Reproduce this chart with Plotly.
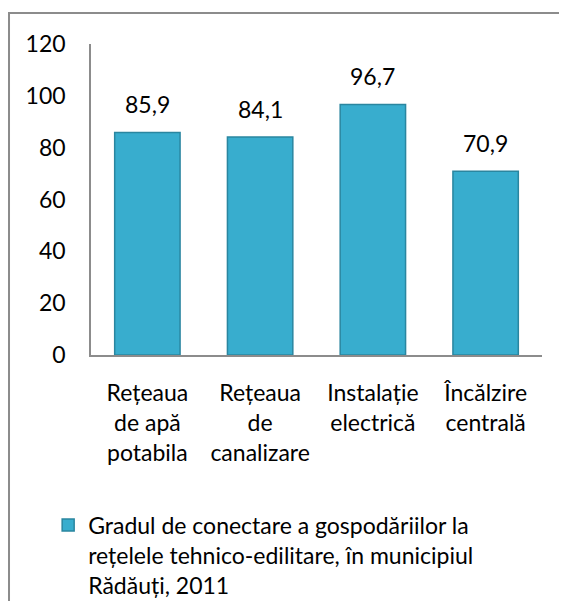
import plotly.graph_objs as go

categories = ["Rețeaua<br>de apă<br>potabila", "Rețeaua<br>de<br>canalizare",
              "Instalație<br>electrică", "Încălzire<br>centrală"]
values = [85.9, 84.1, 96.7, 70.9]
series_name = "Gradul de conectare a gospodăriilor la<br>rețelele tehnico-edilitare, în municipiul<br>Rădăuți, 2011"
y_ticks = [0, 20, 40, 60, 80, 100, 120]

font = dict(family="Lato, Calibri, sans-serif", size=23, color="#000000")

trace = go.Bar(x=categories, y=values, name=series_name,
               marker=dict(color="#38ADCE", line=dict(color="#2A86A0", width=1.5)),
               showlegend=True)

# value labels above bars, decimal comma
labels = [dict(x=c, y=v, text=("%.1f" % v).replace(".", ","), showarrow=False,
               yanchor="bottom", yshift=12, font=font)
          for c, v in zip(categories, values)]

# page body has an 8px margin, so the figure is sized to fit inside it
layout = go.Layout(
    width=551, height=593,
    margin=dict(l=83, r=17, t=36, b=246, autoexpand=False),
    paper_bgcolor="white", plot_bgcolor="white",
    font=font,
    bargap=0.42,
    showlegend=True,
    xaxis=dict(showline=True, linecolor="#8C8C8C", linewidth=1.5, showgrid=False,
               ticks="", ticklabelstandoff=17, tickfont=font, automargin=False),
    yaxis=dict(range=[0, 120], tickvals=y_ticks, showline=True, linecolor="#8C8C8C",
               linewidth=1.5, showgrid=False, zeroline=False, ticks="",
               ticklabelstandoff=19, tickfont=font, automargin=False),
    legend=dict(orientation="v", x=-0.095, xanchor="left", y=-0.478, yanchor="top",
                valign="top", font=font, bgcolor="rgba(0,0,0,0)"),
    annotations=labels,
    shapes=[dict(type="rect", xref="paper", yref="paper", x0=-0.1818, x1=1.2,
                 y0=-1.0, y1=1.0997, line=dict(color="#8C8C8C", width=2))],
)

fig = go.Figure(data=[trace], layout=layout)
fig.write_html("out.html")
